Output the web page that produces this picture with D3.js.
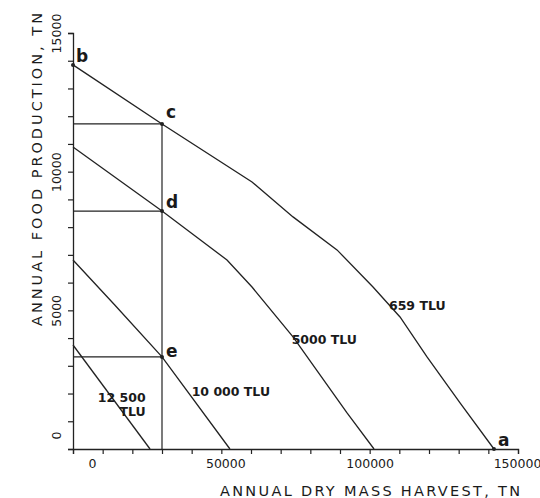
<!DOCTYPE html>
<html>
<head>
<meta charset="utf-8">
<script src="https://cdn.jsdelivr.net/npm/d3@7"></script>
<style>
  body { margin: 0; background: #fff; }
  svg { display: block; }
  text { fill: #1a1a1a; font-family: "DejaVu Sans", sans-serif; }
</style>
</head>
<body>
<div id="graph"></div>
<script>
// production possibility curves, one per herd size (x = dry mass harvest, y = food production)
var tlu659  = [[0, 13850], [30000, 11720], [60340, 9630], [74160, 8370], [88990, 7180],
               [101130, 5840], [110230, 4760], [119330, 3320], [130460, 1660], [141900, 0]]
var tlu5000 = [[0, 10890], [30000, 8580], [51910, 6815], [60340, 5840], [74160, 4040],
               [92370, 1300], [101470, 0]]
var tlu10000 = [[0, 6815], [14000, 5200], [30000, 3320], [52900, 0]]
var tlu12500 = [[0, 3750], [25960, 0]]

// lettered points
var pts = [
  {name: 'a', x: 141900, y: 0},
  {name: 'b', x: 0, y: 13850},
  {name: 'c', x: 30000, y: 11720},
  {name: 'd', x: 30000, y: 8580},
  {name: 'e', x: 30000, y: 3320}
]

var curveLabels = [
  {text: '659 TLU', x: 106500, y: 5000},
  {text: '5000 TLU', x: 73700, y: 3780},
  {text: '10 000 TLU', x: 40000, y: 1900}
]

var xMajor = [0, 50000, 100000, 150000]
var yMajor = [0, 5000, 10000, 15000]

var width = 540, height = 498

var svg = d3.select('#graph').html('').append('svg')
  .attr('width', width).attr('height', height)

var x = d3.scaleLinear().domain([0, 150000]).range([73, 518])
var y = d3.scaleLinear().domain([0, 15000]).range([449, 33])

var ink = '#222'

// axes
var xAxis = d3.axisBottom(x)
  .tickValues(d3.range(0, 150001, 10000))
  .tickSize(5).tickPadding(5)
  .tickFormat(d => xMajor.includes(d) ? d : '')

var gx = svg.append('g').attr('transform', 'translate(0,' + y(0) + ')').call(xAxis)
gx.select('.domain').attr('stroke', ink).attr('stroke-width', 1.3)
gx.selectAll('.tick line').attr('stroke', ink).attr('stroke-width', 1.2)
gx.selectAll('.tick text')
  .style('font-size', '12.5px').style('font-family', '"DejaVu Sans", sans-serif')
  .attr('fill', '#1a1a1a')
  .attr('dx', d => d == 0 ? 19 : (d == 50000 ? 4 : (d == 150000 ? -1 : 0)))

var yAxis = d3.axisLeft(y)
  .tickValues(d3.range(0, 15001, 1000))
  .tickSize(5).tickPadding(4)
  .tickFormat(d => yMajor.includes(d) ? d : '')

var gy = svg.append('g').attr('transform', 'translate(' + x(0) + ',0)').call(yAxis)
gy.select('.domain').attr('stroke', ink).attr('stroke-width', 1.3)
gy.selectAll('.tick line').attr('stroke', ink).attr('stroke-width', 1.2)
gy.selectAll('.tick text')
  .style('font-size', '12.5px').style('font-family', '"DejaVu Sans", sans-serif')
  .attr('fill', '#1a1a1a')
  .attr('text-anchor', 'middle')
  .attr('x', 0).attr('dy', 0)
  .attr('transform', d => 'translate(-12,' + (d == 0 ? -14 : 0) + ') rotate(-90)')

// axis titles
svg.append('text')
  .attr('x', 220).attr('y', 496)
  .attr('textLength', 300).attr('lengthAdjust', 'spacing')
  .style('font-size', '14.5px')
  .text('ANNUAL DRY MASS HARVEST, TN')

svg.append('text')
  .attr('transform', 'translate(42,326) rotate(-90)')
  .attr('textLength', 313).attr('lengthAdjust', 'spacing')
  .style('font-size', '14.5px')
  .text('ANNUAL FOOD PRODUCTION, TN')

// guide lines from c, d, e
var guides = pts.filter(d => 'cde'.includes(d.name))
svg.selectAll('line.h').data(guides).enter().append('line')
  .attr('x1', x(0)).attr('x2', d => x(d.x))
  .attr('y1', d => y(d.y)).attr('y2', d => y(d.y))
  .attr('stroke', ink).attr('stroke-width', 1.2)

svg.append('line')
  .attr('x1', x(30000)).attr('x2', x(30000))
  .attr('y1', y(0)).attr('y2', y(d3.max(guides, d => d.y)))
  .attr('stroke', ink).attr('stroke-width', 1.2)

// curves
var line = d3.line().x(d => x(d[0])).y(d => y(d[1]))

;[tlu659, tlu5000, tlu10000, tlu12500].forEach(arr => {
  svg.append('path')
    .attr('d', line(arr))
    .attr('fill', 'none').attr('stroke', ink).attr('stroke-width', 1.3)
})

// dots + letters
svg.selectAll('circle.pt').data(pts).enter().append('circle')
  .attr('cx', d => x(d.x)).attr('cy', d => y(d.y)).attr('r', 2)
  .attr('fill', ink)

var letterOff = {a: [4, -3], b: [3, -3], c: [4, -6], d: [4, -3], e: [4, 0]}
svg.selectAll('text.pt').data(pts).enter().append('text')
  .attr('x', d => x(d.x) + letterOff[d.name][0])
  .attr('y', d => y(d.y) + letterOff[d.name][1])
  .style('font-size', '17px').style('font-weight', 'bold')
  .text(d => d.name)

// curve labels
svg.selectAll('text.cl').data(curveLabels).enter().append('text')
  .attr('x', d => x(d.x)).attr('y', d => y(d.y))
  .style('font-size', '12.5px').style('font-weight', 'bold')
  .text(d => d.text)

svg.append('text')
  .attr('x', x(25000)).attr('y', y(1710)).attr('text-anchor', 'end')
  .style('font-size', '12.5px').style('font-weight', 'bold')
  .selectAll('tspan').data(['12 500', 'TLU']).enter().append('tspan')
  .attr('x', x(24500)).attr('dy', (d, i) => i ? 14 : 0)
  .text(d => d)
</script>
</body>
</html>
